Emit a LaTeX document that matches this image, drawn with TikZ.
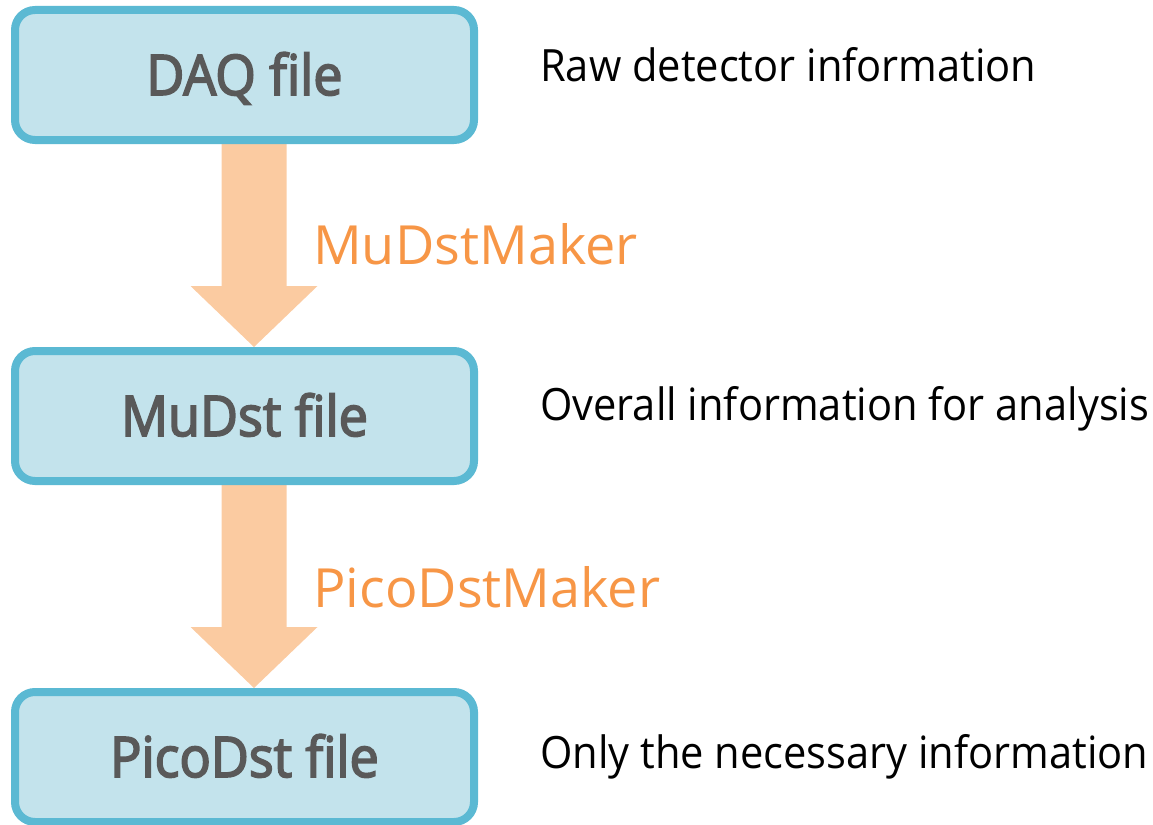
\documentclass[tikz,border=0pt]{standalone}
\usepackage{fontspec}
\setmainfont{Open Sans}
\newfontfamily\boxfont{Open Sans}[RawFeature={embolden=3}, FakeStretch=0.93]
\newfontfamily\notefont{Open Sans}[FakeStretch=0.935]
\usetikzlibrary{calc,backgrounds}
\definecolor{boxline}{HTML}{5BB9D3}
\definecolor{boxfill}{HTML}{C3E3EC}
\definecolor{boxtext}{HTML}{595959}
\definecolor{flow}{HTML}{FBCBA1}
\definecolor{maker}{HTML}{F79646}
\begin{document}
\begin{tikzpicture}[x=1pt,y=-1pt,
  filebox/.style={draw=boxline, fill=boxfill, line width=8pt, rounded corners=20pt,
    minimum width=459pt, minimum height=130pt, inner sep=0pt, text=boxtext,
    text height=40pt, text depth=0pt,
    font=\boxfont\fontsize{56}{60}\selectfont},
  note/.style={anchor=base west, inner sep=0pt, text=black,
    font=\notefont\fontsize{44.5}{48}\selectfont},
  makerlabel/.style={anchor=base west, inner sep=0pt, text=maker,
    font=\fontsize{54}{60}\selectfont},
  flowarrow/.style={fill=flow}]
\useasboundingbox (0,0) rectangle (1153,824);

% file boxes
\node[filebox] (daq)   at (244.5,75)  {DAQ file};
\node[filebox] (mudst) at (244.5,416) {MuDst file};
\node[filebox] (pico)  at (244.5,757) {PicoDst file};

% descriptions
\node[note] (ndaq)   at (540,82)  {Raw detector information};
\node[note] (nmudst) at (540,420) {Overall information for analysis};
\node[note] (npico)  at (540,768) {Only the necessary information};

% maker labels
\node[makerlabel] (mk1) at (313,264) {MuDstMaker};
\node[makerlabel] (mk2) at (313,607) {PicoDstMaker};

% block arrows between boxes
\begin{scope}[on background layer]
  \foreach \a/\b in {daq/mudst, mudst/pico}{
    \coordinate (s) at ($(\a.south)+(9.5,0)$);
    \coordinate (t) at ($(\b.north)+(9.5,0)$);
    \fill[flowarrow] ($(s)+(-32.5,0)$) -- ($(s)+(32.5,0)$) -- ($(t)+(32.5,-61)$)
      -- ($(t)+(63.5,-61)$) -- (t) -- ($(t)+(-63.5,-61)$) -- ($(t)+(-32.5,-61)$) -- cycle;
  }
\end{scope}
\end{tikzpicture}
\end{document}
